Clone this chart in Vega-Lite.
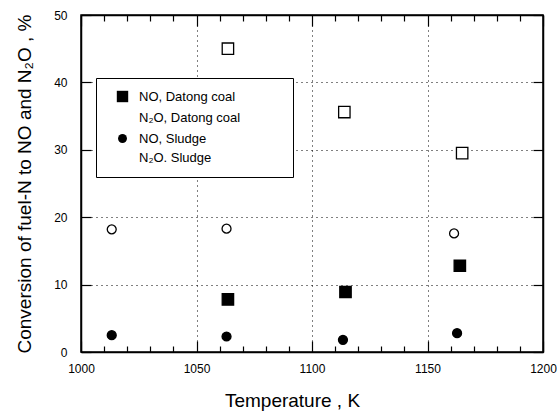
{
  "$schema": "https://vega.github.io/schema/vega-lite/v6.json",
  "width": 462,
  "height": 337,
  "autosize": {"type": "none"},
  "padding": {"left": 81, "top": 15, "right": 14, "bottom": 65},
  "background": "white",
  "config": {
    "font": "Liberation Sans",
    "view": {"stroke": "black", "strokeWidth": 1.5},
    "axis": {
      "domainColor": "black",
      "domainWidth": 1.5,
      "tickColor": "black",
      "tickWidth": 1.2,
      "labelColor": "black",
      "titleColor": "black",
      "labelFont": "Liberation Sans",
      "titleFont": "Liberation Sans",
      "labelFontSize": 12,
      "titleFontSize": 19,
      "titleFontWeight": "normal",
      "gridColor": "black",
      "gridDash": [1, 4],
      "gridWidth": 1
    },
    "legend": {
      "orient": "none",
      "legendX": 15,
      "legendY": 63,
      "strokeColor": "black",
      "fillColor": "white",
      "padding": 12,
      "labelFontSize": 13,
      "labelColor": "black",
      "labelFont": "Liberation Sans",
      "labelOffset": 10,
      "symbolOffset": 8,
      "rowPadding": 4.5,
      "symbolStrokeColor": "black",
      "symbolStrokeWidth": 1.2
    }
  },
  "data": {
    "values": [
      {"series": "NO, Datong coal", "T": 1063.6, "v": 7.8},
      {"series": "NO, Datong coal", "T": 1114.5, "v": 8.9},
      {"series": "NO, Datong coal", "T": 1164, "v": 12.8},
      {"series": "N₂O, Datong coal", "T": 1063.6, "v": 45.0},
      {"series": "N₂O, Datong coal", "T": 1114, "v": 35.6},
      {"series": "N₂O, Datong coal", "T": 1165, "v": 29.5},
      {"series": "NO, Sludge", "T": 1013.3, "v": 2.5},
      {"series": "NO, Sludge", "T": 1063, "v": 2.3},
      {"series": "NO, Sludge", "T": 1113.4, "v": 1.8},
      {"series": "NO, Sludge", "T": 1162.8, "v": 2.8},
      {"series": "N₂O. Sludge", "T": 1013.3, "v": 18.2},
      {"series": "N₂O. Sludge", "T": 1063, "v": 18.3},
      {"series": "N₂O. Sludge", "T": 1161.5, "v": 17.6}
    ]
  },
  "resolve": {"axis": {"x": "independent", "y": "independent"}},
  "layer": [
    {
      "mark": {"type": "point", "filled": true, "stroke": "black", "strokeWidth": 1.3, "opacity": 1},
      "encoding": {
        "x": {
          "field": "T", "type": "quantitative",
          "scale": {"domain": [1000, 1200], "nice": false, "zero": false},
          "axis": {
            "orient": "bottom",
            "title": "Temperature ,  K",
            "titlePadding": 17,
            "titleX": 211,
            "format": "d",
            "values": [1000,1010,1020,1030,1040,1050,1060,1070,1080,1090,1100,1110,1120,1130,1140,1150,1160,1170,1180,1190,1200],
            "labelExpr": "datum.value % 50 === 0 ? datum.label : ''",
            "tickSize": {"condition": {"test": "datum.value % 50 === 0", "value": -11}, "value": -6},
            "gridOpacity": {"condition": {"test": "datum.value % 50 === 0", "value": 1}, "value": 0},
            "grid": true,
            "labelPadding": 22,
            "labelFlush": false
          }
        },
        "y": {
          "field": "v", "type": "quantitative",
          "scale": {"domain": [0, 50], "nice": false},
          "axis": {
            "orient": "left",
            "title": "Conversion of fuel-N to NO and N₂O ,  %",
            "values": [0, 10, 20, 30, 40, 50],
            "tickSize": -10,
            "labelPadding": 24,
            "titlePadding": 19,
            "grid": true
          }
        },
        "shape": {
          "field": "series", "type": "nominal",
          "scale": {"domain": ["NO, Datong coal", "N₂O, Datong coal", "NO, Sludge", "N₂O. Sludge"], "range": ["square", "square", "circle", "circle"]},
          "legend": {"title": null, "symbolStrokeColor": "black", "symbolStrokeWidth": 1.2, "labelExpr": "datum.label + '\u2800\u2800\u2800\u2800'", "encode": {"symbols": {"update": {"stroke": {"value": "black"}, "strokeWidth": {"value": 1.2}}}}}
        },
        "fill": {
          "field": "series", "type": "nominal",
          "scale": {"domain": ["NO, Datong coal", "N₂O, Datong coal", "NO, Sludge", "N₂O. Sludge"], "range": ["black", "white", "black", "white"]},
          "legend": {"title": null, "symbolStrokeColor": "black", "symbolStrokeWidth": 1.2, "labelExpr": "datum.label + '\u2800\u2800\u2800\u2800'", "encode": {"symbols": {"update": {"stroke": {"value": "black"}, "strokeWidth": {"value": 1.2}}}}}
        },
        "size": {
          "field": "series", "type": "nominal",
          "scale": {"type": "ordinal", "domain": ["NO, Datong coal", "N₂O, Datong coal", "NO, Sludge", "N₂O. Sludge"], "range": [130, 130, 80, 80]},
          "legend": {"title": null, "symbolStrokeColor": "black", "symbolStrokeWidth": 1.2, "labelExpr": "datum.label + '\u2800\u2800\u2800\u2800'", "encode": {"symbols": {"update": {"stroke": {"value": "black"}, "strokeWidth": {"value": 1.2}}}}}
        }
      }
    },
    {
      "mark": {"type": "point", "opacity": 0},
      "encoding": {
        "x": {
          "field": "T", "type": "quantitative",
          "axis": {
            "orient": "top",
            "title": null,
            "labels": false,
            "grid": false,
            "values": [1000,1010,1020,1030,1040,1050,1060,1070,1080,1090,1100,1110,1120,1130,1140,1150,1160,1170,1180,1190,1200],
            "tickSize": {"condition": {"test": "datum.value % 50 === 0", "value": -11}, "value": -6}
          }
        },
        "y": {
          "field": "v", "type": "quantitative",
          "axis": {
            "orient": "right",
            "title": null,
            "labels": false,
            "grid": false,
            "values": [0, 10, 20, 30, 40, 50],
            "tickSize": -10
          }
        }
      }
    }
  ]
}
